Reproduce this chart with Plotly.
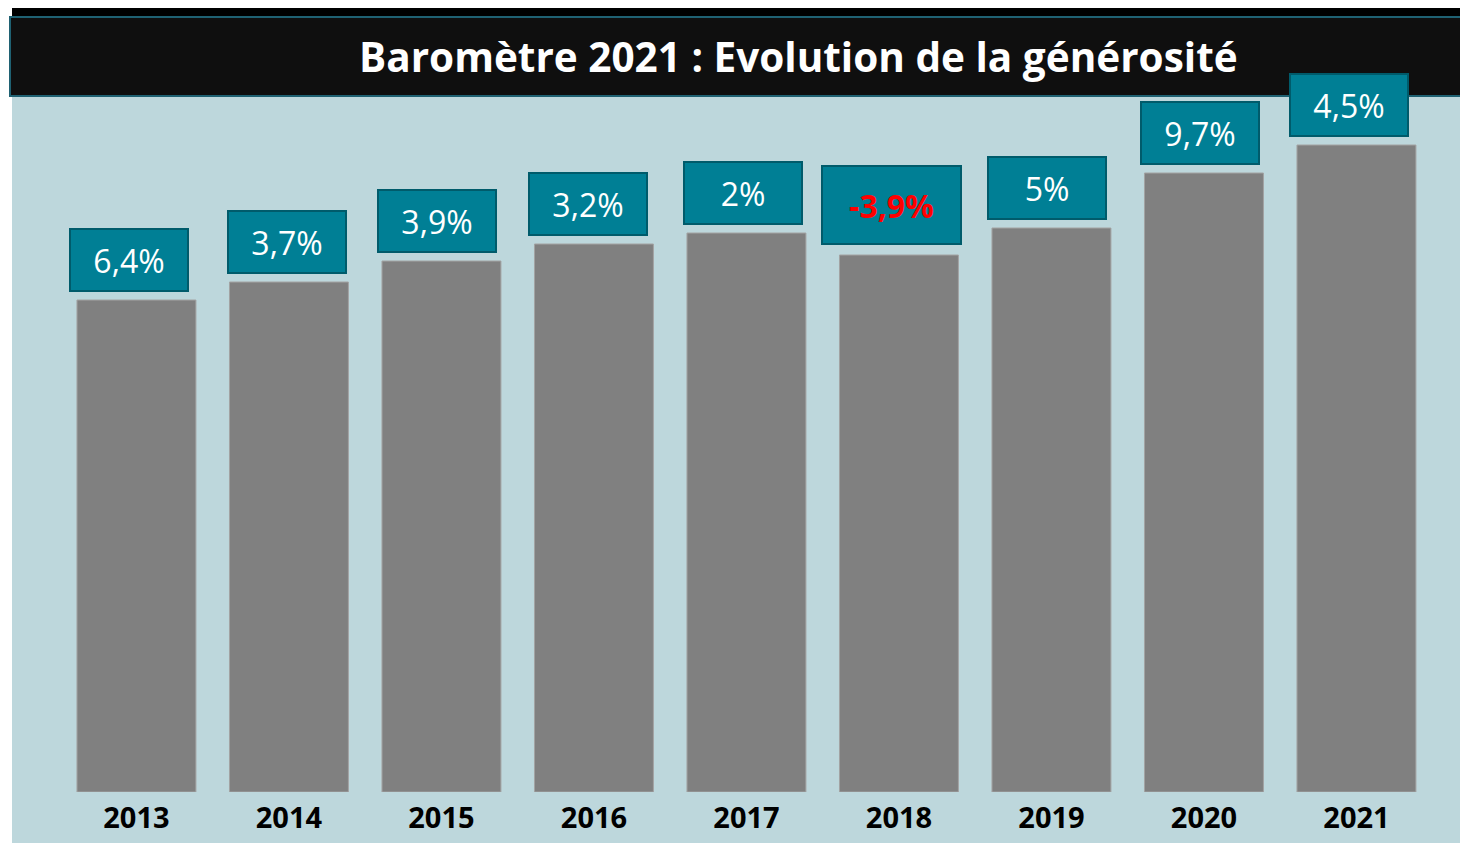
import plotly.graph_objects as go

annees = ['2013', '2014', '2015', '2016', '2017', '2018', '2019', '2020', '2021']
montants = [492, 510, 531, 548, 559, 537, 564, 619, 647]
evolutions = ['6,4%', '3,7%', '3,9%', '3,2%', '2%', '-3,9%', '5%', '9,7%', '4,5%']

# decalage horizontal des boites (px), comme sur l'original
decalages = [-7, -1.5, -4, -5.5, -3.5, -7.5, -4, -4, -7.5]

W, H = 1460, 843
ML, MR, MT, MB = 12, 0, 96, 51
PW, PH = W - ML - MR, H - MT - MB


def px_x(x):
    return (x - ML) / PW


def px_y(y):
    return (H - MB - y) / PH


fig = go.Figure(
    go.Bar(
        x = annees,
        y = montants,
        width = 0.78,
        marker = dict(
            color = '#808080',
            line = dict(color = '#a3a3a3', width = 1)
        ),
        hoverinfo = 'skip'
    )
)

# boites d'evolution au-dessus des barres
for i, (val, ev) in enumerate(zip(montants, evolutions)):
    negatif = ev.startswith('-')
    fig.add_annotation(
        x = i, y = val,
        xref = 'x', yref = 'y',
        text = '<b>' + ev + '</b>' if negatif else ev,
        showarrow = False,
        xanchor = 'center',
        yanchor = 'bottom',
        xshift = decalages[i],
        yshift = 10 if negatif else 8,
        width = 137 if negatif else 116,
        height = 76 if negatif else 60,
        bgcolor = '#007f95',
        bordercolor = '#005b6b',
        borderwidth = 2,
        borderpad = 0,
        font = dict(
            family = 'Open Sans',
            size = 32,
            color = '#ff0000' if negatif else 'white'
        )
    )

fig.add_annotation(
    x = px_x(798), y = px_y(57),
    xref = 'paper', yref = 'paper',
    text = '<b>Baromètre 2021 : Evolution de la générosité</b>',
    showarrow = False,
    xanchor = 'center', yanchor = 'middle',
    font = dict(family = 'Open Sans', size = 40.5, color = 'white')
)

shapes = [
    # fond bleu clair
    dict(type = 'rect', xref = 'paper', yref = 'paper', layer = 'below',
         x0 = px_x(12), x1 = px_x(1460), y0 = px_y(843), y1 = px_y(96),
         fillcolor = '#bdd7dc', line = dict(width = 0)),
    # bandeau noir
    dict(type = 'rect', xref = 'paper', yref = 'paper', layer = 'below',
         x0 = px_x(12), x1 = px_x(1460), y0 = px_y(20), y1 = px_y(8),
         fillcolor = '#000000', line = dict(width = 0)),
    dict(type = 'rect', xref = 'paper', yref = 'paper', layer = 'below',
         x0 = px_x(10), x1 = px_x(1462), y0 = px_y(96), y1 = px_y(17),
         fillcolor = '#0f0f0f', line = dict(color = '#1f6172', width = 2)),
]

fig.update_layout(
    width = W,
    height = H,
    showlegend = False,
    paper_bgcolor = 'white',
    plot_bgcolor = 'rgba(0,0,0,0)',
    margin = dict(l = ML, r = MR, t = MT, b = MB, pad = 0),
    shapes = shapes,
    xaxis = dict(
        type = 'category',
        range = [-0.816, 8.679],
        showgrid = False,
        showline = False,
        zeroline = False,
        ticks = '',
        ticklabelstandoff = 6,
        tickfont = dict(family = 'Open Sans', size = 29, color = 'black', weight = 'bold')
    ),
    yaxis = dict(
        range = [0, PH],
        visible = False
    ),
    font = dict(family = 'Open Sans')
)

fig.write_html(
    'out.html',
    config = dict(displayModeBar = False),
    post_script = "document.body.style.margin = '0';"
)
